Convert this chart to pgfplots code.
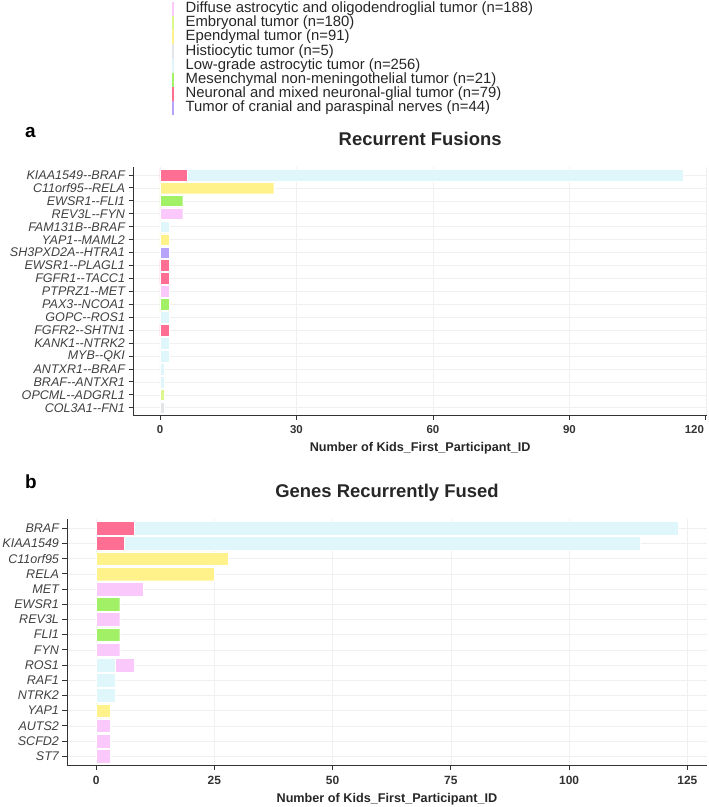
\documentclass[border=0pt]{standalone}
\usepackage{fontspec}
\setmainfont{Liberation Sans}
\usepackage{pgfplots}
\usepackage{pgfplotstable}
\pgfplotsset{compat=1.18}

\definecolor{cDA}{HTML}{FBC8FB}
\definecolor{cEM}{HTML}{DEF78D}
\definecolor{cEP}{HTML}{FFF28B}
\definecolor{cHI}{HTML}{E3E6E8}
\definecolor{cLG}{HTML}{DFF6FA}
\definecolor{cMS}{HTML}{A2F065}
\definecolor{cNM}{HTML}{FF6F93}
\definecolor{cTC}{HTML}{B8A3FA}

% rows: 0 = top
\pgfplotstableread{
row TC NM MS LG  HI EP EM DA
0   0  6  0  109 0  0  0  0
1   0  0  0  0   0  25 0  0
2   0  0  5  0   0  0  0  0
3   0  0  0  0   0  0  0  5
4   0  0  0  2   0  0  0  0
5   0  0  0  0   0  2  0  0
6   2  0  0  0   0  0  0  0
7   0  2  0  0   0  0  0  0
8   0  2  0  0   0  0  0  0
9   0  0  0  0   0  0  0  2
10  0  0  2  0   0  0  0  0
11  0  0  0  2   0  0  0  0
12  0  2  0  0   0  0  0  0
13  0  0  0  2   0  0  0  0
14  0  0  0  2   0  0  0  0
15  0  0  0  1   0  0  0  0
16  0  0  0  1   0  0  0  0
17  0  0  0  0   0  0  1  0
18  0  0  0  0   1  0  0  0
}\dataA

\pgfplotstableread{
row TC NM MS LG  HI EP EM DA
0   0  8  0  115 0  0  0  0
1   0  6  0  109 0  0  0  0
2   0  0  0  0   0  28 0  0
3   0  0  0  0   0  25 0  0
4   0  0  0  0   0  0  0  10
5   0  0  5  0   0  0  0  0
6   0  0  0  0   0  0  0  5
7   0  0  5  0   0  0  0  0
8   0  0  0  0   0  0  0  5
9   0  0  0  4   0  0  0  4
10  0  0  0  4   0  0  0  0
11  0  0  0  4   0  0  0  0
12  0  0  0  0   0  3  0  0
13  0  0  0  0   0  0  0  3
14  0  0  0  0   0  0  0  3
15  0  0  0  0   0  0  0  3
}\dataB

\pgfplotsset{
  common/.style={
    scale only axis,
    xbar stacked,
    bar width=0.9,
    y dir=reverse,
    axis x line*=bottom,
    axis y line*=left,
    axis line style={black!80, line width=0.9bp},
    tick align=outside,
    major tick length=4.5bp,
    tick style={black!80, line width=0.9bp},
    xmajorgrids, ymajorgrids,
    grid style={black!6, line width=0.6bp},
    /pgf/number format/assume math mode=true,
    yticklabel style={font=\itshape\fontsize{12.6}{14}\selectfont, text=black!75},
    xlabel style={font=\bfseries\fontsize{12.7}{14}\selectfont, text=black!85,
      at={(axis description cs:0.5,0)}, anchor=base, yshift=-36bp},
    xlabel={Number of Kids\_First\_Participant\_ID},
    every axis plot/.append style={draw=white, line width=0.4bp},
  }
}

\begin{document}
\begin{tikzpicture}
\useasboundingbox (0,0) rectangle (709bp,-807bp);

% ---------------- panel a ----------------
\begin{axis}[common,
  at={(133bp,-415.5bp)}, anchor=south west,
  width=574.3bp, height=248.3bp,
  xmin=-5.93, xmax=120.3,
  ymin=-0.6, ymax=18.6,
  xtick={0,30,60,90,120},
  xticklabels={0,30,60,90,{\makebox[0pt][r]{120\hspace{2bp}}}},
  xticklabel style={font=\bfseries\fontsize{11.5}{13}\selectfont, text=black!80},
  xticklabel shift=2bp,
  ytick={0,...,18},
  yticklabels={KIAA1549-{}-BRAF, C11orf95-{}-RELA, EWSR1-{}-FLI1, REV3L-{}-FYN,
    FAM131B-{}-BRAF, YAP1-{}-MAML2, SH3PXD2A-{}-HTRA1, EWSR1-{}-PLAGL1,
    FGFR1-{}-TACC1, PTPRZ1-{}-MET, PAX3-{}-NCOA1, GOPC-{}-ROS1,
    FGFR2-{}-SHTN1, KANK1-{}-NTRK2, MYB-{}-QKI, ANTXR1-{}-BRAF,
    BRAF-{}-ANTXR1, OPCML-{}-ADGRL1, COL3A1-{}-FN1},
  title={Recurrent Fusions},
  title style={font=\bfseries\fontsize{18.5}{20}\selectfont, text=black!85,
    at={(axis description cs:0.5,1)}, anchor=base, yshift=15.5bp},
  reverse legend,
  legend style={at={(axis description cs:0.0683,1.6641)}, anchor=north west,
    draw=none, fill=none, inner sep=0pt, outer sep=0pt,
    row sep=0pt, column sep=12bp,
    font=\fontsize{14.9}{16}\selectfont, text=black!85,
    cells={anchor=west},
    nodes={inner sep=0pt, text height=10.5bp, text depth=3.55bp}},
  legend image code/.code={\fill[#1, draw=none] (-0.75bp,-7.03bp) rectangle (0.75bp,7.03bp);},
]
\addplot[fill=cTC] table[x=TC, y=row] {\dataA};
\addlegendentry{Tumor of cranial and paraspinal nerves (n=44)}
\addplot[fill=cNM] table[x=NM, y=row] {\dataA};
\addlegendentry{Neuronal and mixed neuronal-glial tumor (n=79)}
\addplot[fill=cMS] table[x=MS, y=row] {\dataA};
\addlegendentry{Mesenchymal non-meningothelial tumor (n=21)}
\addplot[fill=cLG] table[x=LG, y=row] {\dataA};
\addlegendentry{Low-grade astrocytic tumor (n=256)}
\addplot[fill=cHI] table[x=HI, y=row] {\dataA};
\addlegendentry{Histiocytic tumor (n=5)}
\addplot[fill=cEP] table[x=EP, y=row] {\dataA};
\addlegendentry{Ependymal tumor (n=91)}
\addplot[fill=cEM] table[x=EM, y=row] {\dataA};
\addlegendentry{Embryonal tumor (n=180)}
\addplot[fill=cDA] table[x=DA, y=row] {\dataA};
\addlegendentry{Diffuse astrocytic and oligodendroglial tumor (n=188)}
\end{axis}

% ---------------- panel b ----------------
\begin{axis}[common,
  at={(67bp,-765.3bp)}, anchor=south west,
  width=640bp, height=246.1bp,
  xmin=-6.15, xmax=129.15,
  ymin=-0.6, ymax=15.6,
  xtick={0,25,50,75,100,125},
  xticklabel style={font=\bfseries\fontsize{12}{13}\selectfont, text=black!80},
  xticklabel shift=2.5bp,
  xlabel style={yshift=-1bp},
  ytick={0,...,15},
  yticklabels={BRAF, KIAA1549, C11orf95, RELA, MET, EWSR1, REV3L, FLI1, FYN,
    ROS1, RAF1, NTRK2, YAP1, AUTS2, SCFD2, ST7},
  title={Genes Recurrently Fused},
  title style={font=\bfseries\fontsize{18.5}{20}\selectfont, text=black!85,
    at={(axis description cs:0.5,1)}, anchor=base, yshift=16bp},
]
\addplot[fill=cTC] table[x=TC, y=row] {\dataB};
\addplot[fill=cNM] table[x=NM, y=row] {\dataB};
\addplot[fill=cMS] table[x=MS, y=row] {\dataB};
\addplot[fill=cLG] table[x=LG, y=row] {\dataB};
\addplot[fill=cHI] table[x=HI, y=row] {\dataB};
\addplot[fill=cEP] table[x=EP, y=row] {\dataB};
\addplot[fill=cEM] table[x=EM, y=row] {\dataB};
\addplot[fill=cDA] table[x=DA, y=row] {\dataB};
\end{axis}

\node[anchor=base west, inner sep=0pt, font=\bfseries\fontsize{19}{20}\selectfont] at (25bp,-137.3bp) {a};
\node[anchor=base west, inner sep=0pt, font=\bfseries\fontsize{19}{20}\selectfont] at (25bp,-488.3bp) {b};
\end{tikzpicture}
\end{document}
